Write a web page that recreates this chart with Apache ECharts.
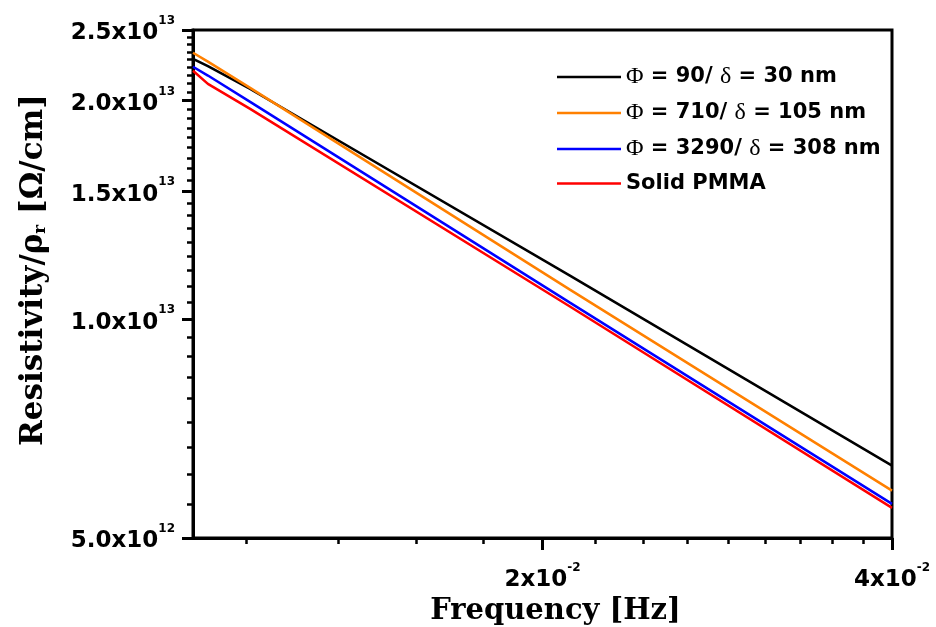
<!DOCTYPE html>
<html>
<head>
<meta charset="utf-8">
<script src="https://cdn.jsdelivr.net/npm/echarts@6/dist/echarts.min.js"></script>
<style>html,body{margin:0;padding:0;background:#fff;}#c{width:936px;height:627px;}</style>
</head>
<body>
<div id="c"></div>
<script>
// ---- data ----
const frequency = [0.01, 0.0103, 0.0112, 0.0211, 0.04];
const rhoPhi90 = [2.282e13, 2.229e13, 2.074e13, 1.149e13, 6.29e12];
const rhoPhi710 = [2.326e13, 2.262e13, 2.081e13, 1.099e13, 5.81e12];
const rhoPhi3290 = [2.225e13, 2.164e13, 1.991e13, 1.055e13, 5.57e12];
const rhoSolid = [2.197e13, 2.108e13, 1.947e13, 1.042e13, 5.50e12];
const seriesNames = ['Φ = 90/ δ = 30 nm', 'Φ = 710/ δ = 105 nm', 'Φ = 3290/ δ = 308 nm', 'Solid PMMA'];
const xMajorTicks = [0.02, 0.04];
const yMajorTicks = [5e12, 1e13, 1.5e13, 2e13, 2.5e13];
const xRange = [0.01, 0.04];
const yRange = [5e12, 2.5e13];

// minor ticks: each major interval split in 9 parts
const xMinorTicks = [];
for (let k = 5; k <= 8; k++) xMinorTicks.push(0.02 * k / 9);
for (let k = 1; k <= 8; k++) xMinorTicks.push(0.02 + 0.02 * k / 9);
const yMinorTicks = [];
for (let i = 0; i < yMajorTicks.length - 1; i++) {
  const a = yMajorTicks[i], b = yMajorTicks[i + 1];
  for (let k = 1; k <= 8; k++) yMinorTicks.push(a + (b - a) * k / 9);
}

function sci(v, digits) {
  const e = Math.floor(Math.log10(v) + 1e-9);
  const m = v / Math.pow(10, e);
  return '{m|' + m.toFixed(digits) + 'x10}{e|' + e + '}';
}

const labelFont = 'DejaVu Sans';
const richLabel = {
  m: { fontFamily: labelFont, fontWeight: 'bold', fontSize: 23, color: '#000', lineHeight: 30, verticalAlign: 'bottom' },
  e: { fontFamily: labelFont, fontWeight: 'bold', fontSize: 12, color: '#000', lineHeight: 14, verticalAlign: 'top' }
};

const colors = ['#000000', '#ff8000', '#0000ff', '#ff0000'];
const values = [rhoPhi90, rhoPhi710, rhoPhi3290, rhoSolid];

const chart = echarts.init(document.getElementById('c'), null, { renderer: 'canvas' });
chart.setOption({
  animation: false,
  backgroundColor: '#fff',
  grid: { left: 193, right: 44, top: 30, bottom: 89, containLabel: false, outerBoundsMode: 'none', show: true, borderColor: '#000', borderWidth: 3, backgroundColor: 'transparent' },
  legend: {
    orient: 'vertical', left: 552, top: 60, icon: 'rect', itemWidth: 64, itemHeight: 2.5, itemGap: 12,
    data: seriesNames,
    formatter: function (name) {
      const parts = name.split(/([Φδ])/).filter(s => s.length);
      return parts.map(s => (s === 'Φ' || s === 'δ') ? '{g|' + s + '}' : '{t|' + s + '}').join('');
    },
    textStyle: { color: '#000', rich: {
      t: { fontFamily: labelFont, fontWeight: 'bold', fontSize: 21, color: '#000', lineHeight: 24 },
      g: { fontFamily: 'Liberation Serif', fontWeight: 'normal', fontSize: 24, color: '#000', lineHeight: 24 } } }
  },
  xAxis: [{
    type: 'log', logBase: 10, min: xRange[0], max: xRange[1],
    name: 'Frequency [Hz]', nameLocation: 'middle', nameGap: 55,
    nameTextStyle: { fontFamily: 'DejaVu Serif', fontWeight: 'bold', fontSize: 29, color: '#000', padding: [0, 0, 0, 26] },
    axisLine: { show: true, lineStyle: { color: '#000', width: 3 } },
    axisTick: { show: true, inside: false, length: 12, lineStyle: { color: '#000', width: 3 }, customValues: xMajorTicks },
    axisLabel: { show: true, margin: 24, customValues: xMajorTicks, formatter: v => sci(v, 0), rich: richLabel },
    splitLine: { show: false }
  }, {
    type: 'log', logBase: 10, min: xRange[0], max: xRange[1], position: 'bottom',
    axisLine: { show: false },
    axisTick: { show: true, inside: false, length: 6, lineStyle: { color: '#000', width: 2.5 }, customValues: xMinorTicks },
    axisLabel: { show: false }, splitLine: { show: false }
  }],
  yAxis: [{
    type: 'log', logBase: 10, min: yRange[0], max: yRange[1],
    name: 'Resistivity/ρ{sub|r} [Ω/cm]', nameLocation: 'middle', nameRotate: 90, nameGap: 144,
    nameTextStyle: { fontFamily: 'DejaVu Serif', fontWeight: 'bold', fontSize: 31, color: '#000', padding: [0, 0, 0, 28],
      rich: { sub: { fontFamily: 'DejaVu Serif', fontWeight: 'bold', fontSize: 17, color: '#000', verticalAlign: 'bottom', lineHeight: 24 } } },
    axisLine: { show: true, lineStyle: { color: '#000', width: 3 } },
    axisTick: { show: true, inside: false, length: 11, lineStyle: { color: '#000', width: 3 }, customValues: yMajorTicks },
    axisLabel: { show: true, margin: 18, customValues: yMajorTicks, formatter: v => sci(v, 1), rich: richLabel },
    splitLine: { show: false }
  }, {
    type: 'log', logBase: 10, min: yRange[0], max: yRange[1], position: 'left',
    axisLine: { show: false },
    axisTick: { show: true, inside: false, length: 6, lineStyle: { color: '#000', width: 2.5 }, customValues: yMinorTicks },
    axisLabel: { show: false }, splitLine: { show: false }
  }],
  series: seriesNames.map((name, i) => ({
    name: name, type: 'line', xAxisIndex: 0, yAxisIndex: 0, symbol: 'none', color: colors[i],
    lineStyle: { color: colors[i], width: 2.5 },
    data: frequency.map((f, j) => [f, values[i][j]])
  }))
});
</script>
</body>
</html>
